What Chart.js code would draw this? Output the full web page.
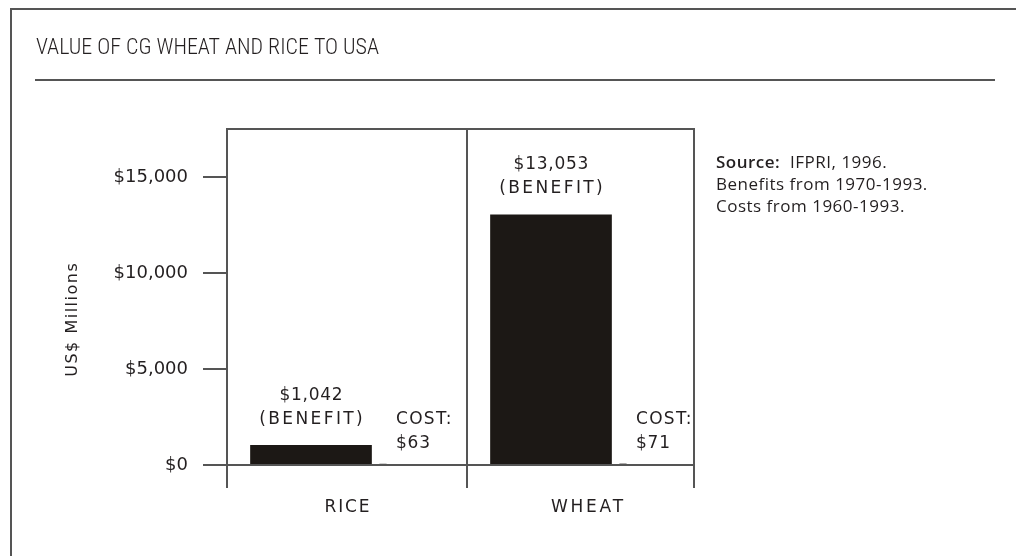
<!DOCTYPE html>
<html>
<head>
<meta charset="utf-8">
<script src="https://cdn.jsdelivr.net/npm/chart.js@4.4.1/dist/chart.umd.min.js"></script>
<style>
  html, body { margin: 0; padding: 0; background: #fff; }
</style>
</head>
<body>
<canvas id="chart" width="1016" height="556"></canvas>
<script>
// values in US$ millions
const categories = ['RICE', 'WHEAT'];
const benefit = [1042, 13053];
const cost = [63, 71];
const yTicks = [0, 5000, 10000, 15000];
const yMax = 17500;

const INK = '#231f20';
const LINE = '#555555';
const BAR = '#1c1815';
const LABEL_FONT = '17px "DejaVu Sans"';

const money = v => '$' + v.toLocaleString('en-US');

// fillText with tracking, centred text is nudged back by half the trailing gap
function spaced(ctx, txt, x, y, spacing) {
  ctx.letterSpacing = spacing + 'px';
  const shift = ctx.textAlign === 'center' ? spacing / 2 : 0;
  ctx.fillText(txt, x + shift, y);
  ctx.letterSpacing = '0px';
}

const decor = {
  id: 'decor',
  beforeDraw(chart) {
    const ctx = chart.ctx;
    ctx.save();
    ctx.fillStyle = '#fff';
    ctx.fillRect(0, 0, chart.width, chart.height);

    // page frame (left + top) and title rule
    ctx.strokeStyle = LINE;
    ctx.lineWidth = 2;
    ctx.beginPath();
    ctx.moveTo(11, chart.height);
    ctx.lineTo(11, 9);
    ctx.lineTo(chart.width, 9);
    ctx.moveTo(35, 80);
    ctx.lineTo(995, 80);
    ctx.stroke();

    ctx.fillStyle = INK;
    ctx.textAlign = 'left';
    ctx.textBaseline = 'alphabetic';
    ctx.font = '300 22px "Roboto Condensed"';
    spaced(ctx, 'VALUE OF CG WHEAT AND RICE TO USA', 36, 54, 0);

    // y axis title
    ctx.save();
    ctx.translate(73, 320);
    ctx.rotate(-Math.PI / 2);
    ctx.textAlign = 'center';
    ctx.textBaseline = 'middle';
    ctx.font = '16px "DejaVu Sans"';
    spaced(ctx, 'US$ Millions', 0, 0, 1.5);
    ctx.restore();

    // source note
    ctx.letterSpacing = '0.5px';
    ctx.font = '600 17px "Open Sans"';
    ctx.fillText('Source:', 716, 168);
    const w = ctx.measureText('Source: ').width;
    ctx.font = '17px "Open Sans"';
    ctx.fillText(' IFPRI, 1996.', 716 + w, 168);
    ctx.fillText('Benefits from 1970-1993.', 716, 190);
    ctx.fillText('Costs from 1960-1993.', 716, 212);
    ctx.letterSpacing = '0px';
    ctx.restore();
  },
  afterDatasetsDraw(chart) {
    const { ctx, chartArea: a, scales: { x, y } } = chart;
    const y0 = y.getPixelForValue(0);
    const mid = (x.getPixelForTick(0) + x.getPixelForTick(1)) / 2;
    const right = a.right - 13;
    const below = y0 + 23;

    ctx.save();
    // plot box, divider and zero line
    ctx.strokeStyle = LINE;
    ctx.lineWidth = 2;
    ctx.beginPath();
    ctx.moveTo(a.left, below);
    ctx.lineTo(a.left, a.top);
    ctx.lineTo(right, a.top);
    ctx.lineTo(right, below);
    ctx.moveTo(mid, a.top);
    ctx.lineTo(mid, below);
    ctx.moveTo(a.left, y0);
    ctx.lineTo(right, y0);
    ctx.stroke();

    ctx.fillStyle = INK;
    ctx.font = LABEL_FONT;
    ctx.textBaseline = 'alphabetic';

    // benefit labels above each bar
    ctx.textAlign = 'center';
    chart.getDatasetMeta(0).data.forEach((bar, i) => {
      spaced(ctx, money(benefit[i]), bar.x, bar.y - 45, 0.75);
      spaced(ctx, '(BENEFIT)', bar.x, bar.y - 21, 2.4);
    });

    // cost labels beside the (tiny) cost bars
    ctx.textAlign = 'left';
    chart.getDatasetMeta(1).data.forEach((bar, i) => {
      spaced(ctx, 'COST:', bar.x + 13, y0 - 41, 1.3);
      spaced(ctx, money(cost[i]), bar.x + 13, y0 - 17, 0.75);
    });

    // category names
    ctx.textAlign = 'center';
    ctx.font = '17px "DejaVu Sans"';
    spaced(ctx, categories[0], x.getPixelForTick(0), y0 + 47, 1.9);
    spaced(ctx, categories[1], x.getPixelForTick(1), y0 + 47, 2.8);
    ctx.restore();
  }
};

new Chart(document.getElementById('chart'), {
  type: 'bar',
  data: {
    labels: categories,
    datasets: [
      { label: 'Benefit', data: benefit, backgroundColor: BAR,
        categoryPercentage: 0.6, barPercentage: 1.69 },
      { label: 'Cost', data: cost, backgroundColor: BAR,
        categoryPercentage: 0.6, barPercentage: 0.1 }
    ]
  },
  options: {
    responsive: false,
    animation: false,
    devicePixelRatio: 1,
    layout: { padding: { top: 129, right: 309, bottom: 0, left: 0 } },
    plugins: { legend: { display: false }, tooltip: { enabled: false } },
    scales: {
      x: {
        ticks: { display: false },
        grid: { display: false },
        border: { display: false },
        afterFit: s => { s.height = 91; }
      },
      y: {
        min: 0,
        max: yMax,
        afterBuildTicks: s => { s.ticks = yTicks.map(v => ({ value: v })); },
        ticks: {
          callback: v => money(v),
          font: { family: 'DejaVu Sans', size: 18 },
          color: INK,
          padding: 15
        },
        grid: { drawOnChartArea: false, tickLength: 24, color: LINE, lineWidth: 2 },
        border: { display: false },
        afterFit: s => { s.width = 227; }
      }
    }
  },
  plugins: [decor]
});
</script>
</body>
</html>
